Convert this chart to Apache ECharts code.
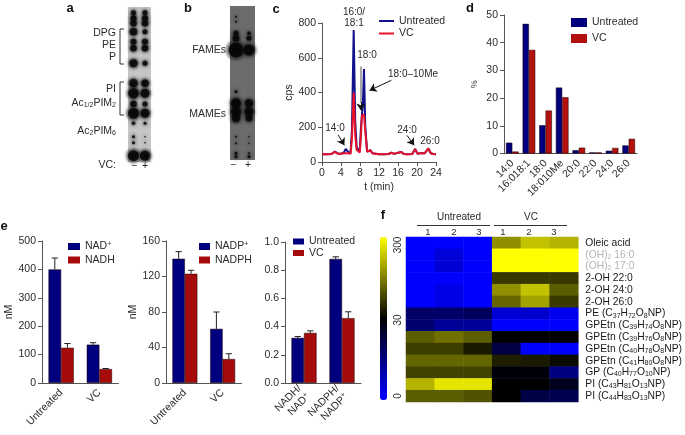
<!DOCTYPE html>
<html><head><meta charset="utf-8">
<style>html,body{margin:0;padding:0;background:#fff}#c{width:685px;height:435px}</style>
<script src="https://cdn.jsdelivr.net/npm/echarts@6/dist/echarts.min.js"></script>
</head><body><div id="c"></div>
<script>
// ---------- panel a / b : TLC spots (migration distance, spot strength)
var tlcADist = [5.7,11.3,16.3,24.7,34.7,41.3,56.3,76.3,86.3,97,106.3,116.3,129.7,135.7,148.7];
var tlcAMinus = [5,6,6.5,7.5,6,6.5,8,8.5,10.5,6.5,11,3.5,3,3,11];
var tlcAPlus  = [5,6,6.5,5,6,6.5,5,7.5,9,5,9,3,1.5,1.5,10];
var tlcBDist = [10.7,15.7,27.3,32.3,44,85.7,97.3,105.7,112.3,130.7,137.3,147.3,150.7];
var tlcBMinus = [2,2,5,6.5,15,3,10,10,8,2,2,3,3];
var tlcBPlus  = [0,0,3.5,5,11,0,8,9,6.5,1.5,1.5,2,3];
// ---------- panel c
var timeMin = [0,1,2,2.7,3.4,4,4.6,5,5.5,6,6.3,6.67,7,7.3,7.6,7.95,8.2,8.4,8.6,8.84,9.1,9.5,9.9,10.2,10.6,11,12,13,14,14.6,15.2,15.8,16.2,16.7,17.2,18,19,19.6,20.1,20.6,21,21.6,22,22.4,22.9,23.4,24];
var cpsUntreated = [45,45,46,60,48,47,55,75,58,50,180,760,230,85,80,60,200,270,330,535,210,60,50,68,50,46,45,44,46,53,47,52,47,58,46,45,46,75,48,50,55,50,52,78,50,46,45];
var cpsVC = [45,45,46,58,47,47,50,55,50,48,130,400,150,70,62,55,150,265,262,275,180,58,50,68,50,46,45,44,46,53,47,52,47,58,46,45,46,75,48,50,55,50,52,78,50,46,45];
// ---------- panel d
var fattyAcids = ['14:0','16:018:1','18:0','18:010Me','20:0','22:0','24:0','26:0'];
var pctUntreated = [3.9,46.8,10.2,23.8,1.2,0.4,1,2.9];
var pctVC = [0.7,37.4,15.5,20.3,2.1,0.4,2,5.3];
// ---------- panel e
var treatments = ['Untreated','VC'];
var nadPlus = [400,135], nadPlusErr = [40,7];
var nadh = [124,49], nadhErr = [15,2];
var nadpPlus = [140,61], nadpPlusErr = [8,19];
var nadph = [123,27], nadphErr = [4,6];
var ratioCats = ['NADH/\nNAD{u|+}','NADPH/\nNADP{u|+}'];
var ratioUntreated = [0.32,0.88], ratioUntreatedErr = [0.01,0.015];
var ratioVC = [0.355,0.46], ratioVCErr = [0.015,0.045];
// ---------- panel f : colour level, 0 = blue (0), 0.5 = black (30), 1 = yellow (300)
var heatCols = ['U1','U2','U3','V1','V2','V3'];
var heatRowLabels = ['Oleic acid','{g|(OH)}{gs|2}{g| 16:0}','{g|(OH)}{gs|2}{g| 17:0}','2-OH 22:0','2-OH 24:0','2-OH 26:0',
 'PE (C{s|37}H{s|72}O{s|8}NP)','GPEtn (C{s|39}H{s|74}O{s|8}NP)','GPEtn (C{s|39}H{s|76}O{s|8}NP)','GPEtn (C{s|40}H{s|78}O{s|8}NP)','GPEtn (C{s|41}H{s|80}O{s|8}NP)','GP (C{s|40}H{s|77}O{s|10}NP)','PI (C{s|43}H{s|81}O{s|13}NP)','PI (C{s|44}H{s|83}O{s|13}NP)'];
var heatRows = [
 [0,0,0,.78,.88,.85],
 [0,.07,0,1,1,1],
 [0,.08,0,1,1,1],
 [0,0,0,.61,.61,.61],
 [0,.05,0,.78,.88,.68],
 [0,.05,0,.70,.82,.61],
 [.3,.3,.32,.08,.1,.03],
 [.28,.2,.2,0,0,0],
 [.68,.72,.68,.5,.5,.5],
 [.62,.62,.55,.37,0,0],
 [.7,.7,.7,.56,.55,.52],
 [.63,.63,.63,.48,.48,.25],
 [.85,.95,.95,.5,.5,.44],
 [.68,.68,.66,.5,.36,.34]
];

var FONT = 'Liberation Sans, Arial, sans-serif';
var TXT = '#2b2b2b', AXC = '#555';
var BLUE = '#00007f', RED = '#a50b0b';
var grids = [
 {left:128,top:7,width:23,height:155,show:true,backgroundColor:'#c6c6c6',borderWidth:0},   //0 a
 {left:230,top:6,width:25,height:154,show:true,backgroundColor:'#6c6c6c',borderWidth:0},   //1 b
 {left:322,top:23,width:114,height:139},   //2 c
 {left:504,top:15,width:133,height:138.5}, //3 d
 {left:42,top:241,width:76.5,height:142},  //4 e1
 {left:166,top:241,width:75.5,height:142}, //5 e2
 {left:285,top:242,width:76,height:141},   //6 e3
 {left:406,top:237,width:175,height:165}   //7 f
];
function hidden(g,o){return Object.assign({gridIndex:g,show:false},o);}
function valAxis(g,max,itv,name,gap){return {type:'value',gridIndex:g,min:0,max:max,interval:itv,
  name:name,nameLocation:'middle',nameGap:gap,nameTextStyle:{fontFamily:FONT,fontSize:name=='%'?9:10.5,color:TXT},
  axisLine:{show:true,lineStyle:{color:AXC,width:1}},axisTick:{show:true,length:4,lineStyle:{color:AXC}},
  splitLine:{show:false},axisLabel:{fontFamily:FONT,fontSize:10.5,color:TXT,margin:6,formatter:itv<1?function(v){return v.toFixed(1)}:undefined}};}
function catAxis(g,data,extra){return Object.assign({type:'category',gridIndex:g,data:data,
  axisLine:{lineStyle:{color:AXC}},axisTick:{alignWithLabel:true,length:4,lineStyle:{color:AXC}},
  axisLabel:{interval:0,rotate:45,fontFamily:FONT,fontSize:10.5,color:TXT,margin:8,lineHeight:12,
    rich:{u:{fontSize:7,verticalAlign:'top',fontFamily:FONT,color:TXT}}}},extra||{});}

var xAxes = [
 hidden(0,{type:'value',min:0,max:23}),
 hidden(1,{type:'value',min:0,max:25}),
 {type:'value',gridIndex:2,min:0,max:24,interval:4,name:'t (min)',nameLocation:'middle',nameGap:20,
  nameTextStyle:{fontFamily:FONT,fontSize:10.5,color:TXT},axisLine:{lineStyle:{color:AXC}},axisTick:{length:4,lineStyle:{color:AXC}},
  splitLine:{show:false},axisLabel:{fontFamily:FONT,fontSize:10.5,color:TXT,margin:6}},
 catAxis(3,fattyAcids),
 catAxis(4,treatments),
 catAxis(5,treatments),
 catAxis(6,ratioCats),
 {type:'category',gridIndex:7,data:heatCols,show:false}
];
var yAxes = [
 hidden(0,{type:'value',min:0,max:155,inverse:true}),
 hidden(1,{type:'value',min:0,max:154,inverse:true}),
 valAxis(2,800,200,'cps',26),
 valAxis(3,50,10,'%',25),
 valAxis(4,500,100,'nM',26),
 valAxis(5,160,40,'nM',21),
 valAxis(6,1,0.2,'',0),
 {type:'category',gridIndex:7,data:heatRowLabels,inverse:true,position:'right',
  axisLine:{show:false},axisTick:{show:false},
  axisLabel:{interval:0,fontFamily:FONT,fontSize:10.3,color:'#1a1a1a',margin:7,
   rich:{s:{fontSize:7,fontFamily:FONT,color:'#1a1a1a',padding:[4,0,0,0]},
         g:{fontSize:10.3,fontFamily:FONT,color:'#b5b5b5'},
         gs:{fontSize:7,fontFamily:FONT,color:'#b5b5b5',padding:[4,0,0,0]}}}}
];

function spots(g,dist,arr,xPos,col,op,blur,scale){
  var d=[];dist.forEach(function(y,i){if(arr[i]>0)d.push([xPos,y,arr[i]]);});
  return {type:'scatter',xAxisIndex:g,yAxisIndex:g,data:d,silent:true,clip:true,symbolSize:function(v){return v[2]*scale;},
    itemStyle:{color:col,opacity:op,shadowBlur:blur,shadowColor:col},animation:false};
}
function lane(g,dist,arr,xPos){return [spots(g,dist,arr,xPos,'#222',.18,3,1.4),spots(g,dist,arr,xPos,'#050505',.85,4,1)];}
function bars(g,name,vals,col,w){return {type:'bar',name:name,xAxisIndex:g,yAxisIndex:g,data:vals,barWidth:w,barGap:0,
   itemStyle:{color:col,borderColor:'#200',borderWidth:.5},animation:false,z:2};}
function errs(g,vals,er,side,w){return {type:'custom',xAxisIndex:g,yAxisIndex:g,silent:true,z:3,animation:false,
   data:vals.map(function(v,i){return [i,v,er[i]];}),
   renderItem:function(p,api){
     var a=api.coord([api.value(0),api.value(1)]),b=api.coord([api.value(0),api.value(1)+api.value(2)]);
     var band=api.size([1,0])[0];var x=a[0]+side*band*w/2;var cap=band*w/4;
     var st={stroke:'#222',lineWidth:1,fill:null};
     return {type:'group',children:[
       {type:'line',shape:{x1:x,y1:a[1],x2:x,y2:b[1]},style:st},
       {type:'line',shape:{x1:x-cap,y1:b[1],x2:x+cap,y2:b[1]},style:st}]};
   }};}
function groupE(g,n1,v1,e1,n2,v2,e2){return [bars(g,n1,v1,BLUE,'33%'),bars(g,n2,v2,RED,'33%'),errs(g,v1,e1,-1,.33),errs(g,v2,e2,1,.33)];}

function arrow(from,to){return [{coord:from,lineStyle:{color:'#111',width:1,type:'solid'}},{coord:to}];}
function stem(from,to){return [{coord:from,symbol:'none',lineStyle:{color:'#a8a8a8',width:2,type:'solid'}},{coord:to,symbol:'none'}];}
var heatData=[];heatRows.forEach(function(r,y){r.forEach(function(v,x){heatData.push([x,y,v]);});});

var series = [].concat(
 lane(0,tlcADist,tlcAMinus,5.5),
 lane(0,tlcADist,tlcAPlus,17),
 lane(1,tlcBDist,tlcBMinus,6),
 lane(1,tlcBDist,tlcBPlus,19),
 [{type:'line',name:'Untreated',xAxisIndex:2,yAxisIndex:2,data:timeMin.map(function(t,i){return [t,cpsUntreated[i]];}),
  symbol:'none',lineStyle:{color:'#12128c',width:2},animation:false},
 {type:'line',name:'VC',xAxisIndex:2,yAxisIndex:2,data:timeMin.map(function(t,i){return [t,cpsVC[i]];}),
  symbol:'none',lineStyle:{color:'#e8132b',width:2},animation:false,z:3,
  markLine:{silent:true,symbol:['none','arrow'],symbolSize:7,label:{show:false},animation:false,z:6,
   data:[arrow([3.4,157],[4.7,96]),arrow([14.6,470],[10,412]),arrow([17.9,153],[19.4,96]),stem([8.2,550],[8.2,340]),arrow([8.2,345],[8.2,297])]}},
 bars(3,'Untreated',pctUntreated,BLUE,'38%'),
 bars(3,'VC',pctVC,'#b3110e','38%')],
 groupE(4,'NAD+',nadPlus,nadPlusErr,'NADH',nadh,nadhErr),
 groupE(5,'NADP+',nadpPlus,nadpPlusErr,'NADPH',nadph,nadphErr),
 groupE(6,'Untreated',ratioUntreated,ratioUntreatedErr,'VC',ratioVC,ratioVCErr),
 [{type:'heatmap',xAxisIndex:7,yAxisIndex:7,data:heatData,silent:true,animation:false,itemStyle:{borderWidth:0}}]);

function rectLeg(l,t,items,gap,w,h){return {left:l,top:t,padding:0,orient:'vertical',selectedMode:false,itemWidth:w,itemHeight:h,itemGap:gap,
  icon:'rect',textStyle:{fontFamily:FONT,fontSize:10.5,color:TXT,rich:{u:{fontSize:7,verticalAlign:'top',fontFamily:FONT,color:TXT},n:{fontSize:10.5,fontFamily:FONT,color:TXT}}},
  formatter:function(n){return n.slice(-1)=='+'?'{n|'+n.slice(0,-1)+'}{u|+}':n;},
  data:items.map(function(it){return {name:it[0],itemStyle:{color:it[1],borderWidth:0}};})};}
var legends = [
 {left:379,top:15.5,padding:0,orient:'vertical',selectedMode:false,itemWidth:15,itemHeight:2,itemGap:1.5,textStyle:{fontFamily:FONT,fontSize:10.5,color:TXT},
  data:[{name:'Untreated',icon:'rect',itemStyle:{color:'#12128c'}},{name:'VC',icon:'rect',itemStyle:{color:'#e8132b'}}]},
 rectLeg(571,17,[['Untreated',BLUE],['VC','#b3110e']],5,16,9),
 rectLeg(68,241,[['NAD+',BLUE],['NADH',RED]],2.5,12,7),
 rectLeg(199,241,[['NADP+',BLUE],['NADPH',RED]],2.5,11,7),
 rectLeg(293,236,[['Untreated',BLUE],['VC',RED]],0.5,11,6)
];
function t(x,y,s,o){return {type:'text',x:x,y:y,silent:true,style:Object.assign({text:s,fontFamily:FONT,fontSize:10.5,fill:TXT,align:'center',verticalAlign:'middle'},o||{})};}
function r(x,y,s,o){return t(x,y,s,Object.assign({align:'right'},o||{}));}
function bold(x,y,s){return t(x,y,s,{fontWeight:'bold',fontSize:13,fill:'#111'});}
function pl(pts,col){return {type:'polyline',silent:true,shape:{points:pts},style:{stroke:col||'#333',lineWidth:1,fill:null}};}
var graphics = [
 bold(70,8,'a'),bold(188,8,'b'),bold(276,9,'c'),bold(470,8,'d'),bold(4,226,'e'),bold(383,215,'f'),
 r(116,33,'DPG'),r(116,45,'PE'),r(116,57,'P'),r(116,89,'PI'),
 {type:'text',silent:true,x:116,y:103,style:{text:'Ac{s|1/2}PIM{s|2}',align:'right',verticalAlign:'middle',fontFamily:FONT,fontSize:10.5,fill:TXT,rich:{s:{fontSize:7,fontFamily:FONT,fill:TXT,padding:[4,0,0,0]}}}},
 {type:'text',silent:true,x:116,y:131,style:{text:'Ac{s|2}PIM{s|6}',align:'right',verticalAlign:'middle',fontFamily:FONT,fontSize:10.5,fill:TXT,rich:{s:{fontSize:7,fontFamily:FONT,fill:TXT,padding:[4,0,0,0]}}}},
 pl([[124,29],[120,29],[120,64],[124,64]]),pl([[124,82],[120,82],[120,115],[124,115]]),
 r(116,165,'VC:'),t(134,166,'−'),t(145,166,'+'),
 r(226,50,'FAMEs'),r(226,114,'MAMEs'),t(233,165,'−'),t(248,165,'+'),
 t(354,12,'16:0/',{fontSize:10}),t(354,23,'18:1',{fontSize:10}),t(367,55,'18:0',{fontSize:10}),
 t(413,74,'18:0–10Me',{fontSize:10}),t(335,128,'14:0',{fontSize:10}),t(407,130,'24:0',{fontSize:10}),t(430,141,'26:0',{fontSize:10}),
 t(459,217,'Untreated',{fontSize:10}),t(531,217,'VC',{fontSize:10}),
 pl([[417,225.5],[490,225.5]]),pl([[494,225.5],[567,225.5]]),
 t(428,232.5,'1',{fontSize:9.5}),t(454,232.5,'2',{fontSize:9.5}),t(479,232.5,'3',{fontSize:9.5}),
 t(503,232.5,'1',{fontSize:9.5}),t(529,232.5,'2',{fontSize:9.5}),t(554,232.5,'3',{fontSize:9.5}),
 {type:'text',silent:true,x:398,y:245,rotation:Math.PI/2,style:{text:'300',align:'center',verticalAlign:'middle',fontFamily:FONT,fontSize:10,fill:TXT}},
 {type:'text',silent:true,x:398,y:320,rotation:Math.PI/2,style:{text:'30',align:'center',verticalAlign:'middle',fontFamily:FONT,fontSize:10,fill:TXT}},
 {type:'text',silent:true,x:398,y:396,rotation:Math.PI/2,style:{text:'0',align:'center',verticalAlign:'middle',fontFamily:FONT,fontSize:10,fill:TXT}}
];
var chart = echarts.init(document.getElementById('c'),null,{renderer:'canvas'});
chart.setOption({animation:false,backgroundColor:'#fff',textStyle:{fontFamily:FONT},grid:grids,xAxis:xAxes,yAxis:yAxes,series:series,legend:legends,graphic:graphics,
 visualMap:{type:'continuous',min:0,max:1,seriesIndex:series.length-1,left:365,top:222,itemWidth:7,itemHeight:163,calculable:false,text:null,showLabel:false,
  handleSize:0,indicatorSize:0,hoverLink:false,inRange:{color:['#0000ff','#000000','#ffff00']},textStyle:{fontSize:0}}});
</script></body></html>
